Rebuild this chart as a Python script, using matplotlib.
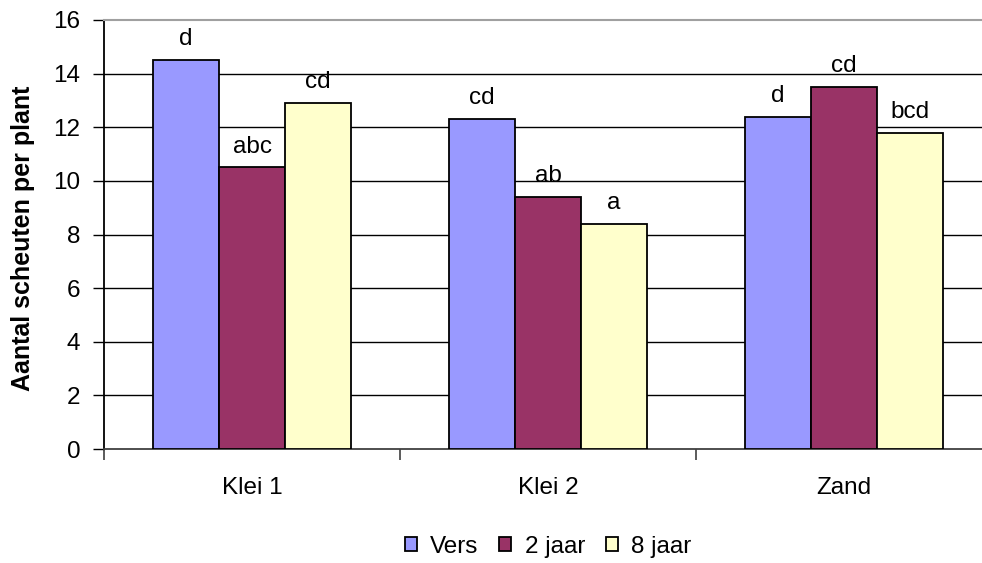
import matplotlib
matplotlib.use("Agg")
import matplotlib.pyplot as plt
import numpy as np

plt.rcParams['font.family'] = ['Liberation Sans', 'DejaVu Sans']

categories = ["Klei 1", "Klei 2", "Zand"]
series_names = ["Vers", "2 jaar", "8 jaar"]
vers = [14.5, 12.3, 12.4]
twee_jaar = [10.5, 9.4, 13.5]
acht_jaar = [12.9, 8.4, 11.8]
letters_vers = ["d", "cd", "d"]
letters_twee = ["abc", "ab", "cd"]
letters_acht = ["cd", "a", "bcd"]
colors = ["#9999FF", "#993366", "#FFFFCC"]

FS = 17.5

fig = plt.figure(figsize=(9.82, 5.63), dpi=100)
ax = fig.add_axes([104/982, (563-449)/563, 888/982, (449-20)/563])

x = np.arange(len(categories))
w = 0.223
series = [vers, twee_jaar, acht_jaar]
letters = [letters_vers, letters_twee, letters_acht]
for i, (vals, lab, col, lets) in enumerate(zip(series, series_names, colors, letters)):
    pos = x + (i - 1) * w
    ax.bar(pos, vals, width=w, color=col, edgecolor="black", linewidth=1.3,
           label=lab, zorder=3)
    for px, v, t in zip(pos, vals, lets):
        ax.annotate(t, (px, v), xytext=(0, 7), textcoords="offset points",
                    ha="center", va="bottom", fontsize=FS)

ax.set_xlim(-0.5, 2.5)
ax.set_ylim(0, 16)
ax.set_yticks(np.arange(0, 17, 2))
for yv in np.arange(2, 16, 2):
    ax.axhline(yv, color="black", linewidth=1.0, zorder=1)

ax.set_xticks([-0.5, 0.5, 1.5, 2.5])
ax.set_xticklabels([])
ax.set_xticks(x, minor=True)
ax.set_xticklabels(categories, minor=True, fontsize=FS)
ax.tick_params(axis="x", which="major", direction="out", length=8, width=1.2, color="#404040")
ax.tick_params(axis="x", which="minor", length=0, pad=20)
ax.tick_params(axis="y", direction="out", length=8, width=1.0, labelsize=FS, pad=9)

ax.spines["right"].set_visible(False)
ax.spines["top"].set_color("#A0A0A0")
ax.spines["top"].set_linewidth(1.5)
ax.spines["left"].set_color("black")
ax.spines["left"].set_linewidth(1.3)
ax.spines["bottom"].set_color("#404040")
ax.spines["bottom"].set_linewidth(1.3)

ax.set_ylabel("Aantal scheuten per plant", fontsize=18, fontweight="bold")
ax.yaxis.set_label_coords(-(104 - 35) / 888, 0.49)

leg = fig.legend(loc="center", bbox_to_anchor=(548/982, 1 - 547/563), ncol=3,
                 frameon=False, fontsize=FS, handlelength=0.5, handleheight=0.5,
                 handletextpad=0.55, columnspacing=0.85)

fig.savefig("out.png", dpi=100)
